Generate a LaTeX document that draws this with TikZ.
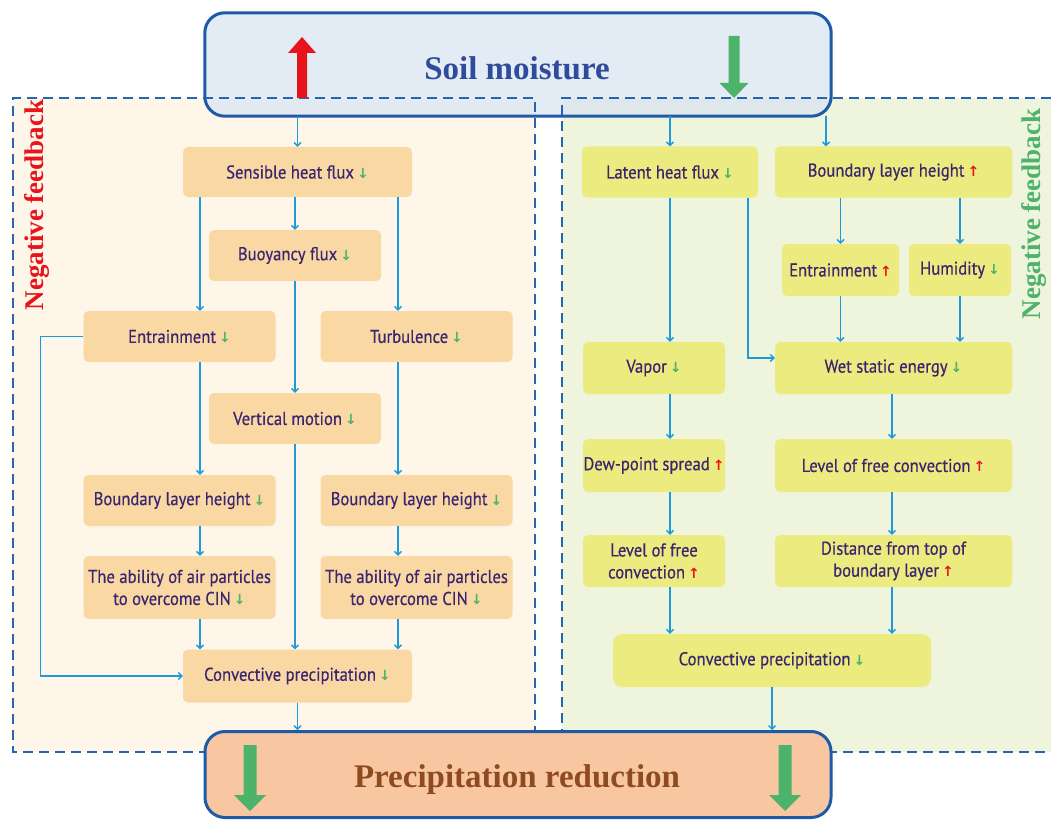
\documentclass[tikz,border=0pt]{standalone}
\usepackage{fontspec}
\setmainfont{PT Sans}
\newfontfamily\nodefont{PT Sans}[FakeBold=0.5,FakeStretch=0.9]
\newfontfamily\titlefont{Liberation Serif}
\newfontfamily\arrfont{DejaVu Sans}
\usetikzlibrary{arrows.meta}
\definecolor{soilfill}{HTML}{DCE6F2}
\definecolor{boxedge}{HTML}{1F5AA6}
\definecolor{dashcol}{HTML}{2566B0}
\definecolor{lpanel}{HTML}{FDF6E9}
\definecolor{rpanel}{HTML}{EFF4DC}
\definecolor{lfill}{HTML}{F9D8A4}
\definecolor{rfill}{HTML}{ECEB80}
\definecolor{precfill}{HTML}{F8C7A2}
\definecolor{acol}{HTML}{1B9BDB}
\definecolor{tcol}{HTML}{3A2570}
\definecolor{ared}{HTML}{E8141B}
\definecolor{agreen}{HTML}{4DB36B}
\definecolor{soiltext}{HTML}{2F4B9B}
\definecolor{prectext}{HTML}{8E4B22}
\newcommand\arrdn{\,{\arrfont\bfseries\fontsize{14}{14}\selectfont\color{agreen}↓}}
\newcommand\arrup{\,{\arrfont\bfseries\fontsize{14}{14}\selectfont\color{ared}↑}}
\begin{document}
\begin{tikzpicture}[x=1pt,y=-1pt,
  nbox/.style={draw=none, rounded corners=5pt, text=tcol, align=center,
    font=\nodefont\fontsize{18.5}{22}\selectfont, inner sep=0pt},
  lbox/.style={nbox, fill=lfill},
  rbox/.style={nbox, fill=rfill},
  arr/.style={draw=acol, line width=1.4pt, -{Straight Barb[length=3.5pt,width=7pt]}},
  panel/.style={draw=dashcol, line width=2pt, dash pattern=on 10pt off 6pt},
  bigbox/.style={draw=boxedge, line width=3pt, rounded corners=20pt},
  fb/.style={font=\titlefont\bfseries\fontsize{27}{27}\selectfont, rotate=90}
]
\useasboundingbox (0,0) rectangle (1051,821);
\fill[white] (0,0) rectangle (1051,821);
% panels
\fill[lpanel] (13,98) rectangle (535,752);
\fill[rpanel] (562,98) rectangle (1051,752);
% soil moisture box
\node[fill=soilfill, fill opacity=0.8, text opacity=1, draw=none, rounded corners=20pt,
  minimum width=626pt, minimum height=103pt, inner sep=0pt] (soil) at (518,64.5) {};
\draw[panel] (535,752) -- (535,98) -- (13,98) -- (13,752) -- (535,752);
\draw[panel] (1051,98) -- (562,98) -- (562,752) -- (1051,752);
\draw[bigbox] (soil.north west) rectangle (soil.south east);
\node[text=soiltext, font=\titlefont\bfseries\fontsize{33}{33}\selectfont] (soiltxt) at (517,68) {Soil moisture};
\fill[ared] (297,98) -- (297,53) -- (288,53) -- (302,37) -- (316,53) -- (307,53) -- (307,98) -- cycle;
\fill[agreen] (728.5,36) -- (728.5,83) -- (719.5,83) -- (734,98) -- (748.5,83) -- (739.5,83) -- (739.5,36) -- cycle;

\node[fb, text=ared] (fbl) at (37,205) {Negative feedback};
\node[fb, text=agreen] (fbr) at (1034,214) {Negative feedback};

% left nodes
\node[lbox, minimum width=229pt, minimum height=50pt] (sens) at (297.5,172) {Sensible heat flux\arrdn};
\node[lbox, minimum width=172pt, minimum height=51pt] (buoy) at (295,255.5) {Buoyancy flux\arrdn};
\node[lbox, minimum width=192pt, minimum height=51pt] (entl) at (179.5,336.5) {Entrainment\arrdn};
\node[lbox, minimum width=192pt, minimum height=51pt] (turb) at (416.5,336.5) {Turbulence\arrdn};
\node[lbox, minimum width=172pt, minimum height=51pt] (vert) at (295,418.5) {Vertical motion\arrdn};
\node[lbox, minimum width=192pt, minimum height=51pt] (blhl) at (179.5,500.5) {Boundary layer height\arrdn};
\node[lbox, minimum width=192pt, minimum height=51pt] (blhr) at (416.5,500.5) {Boundary layer height\arrdn};
\node[lbox, minimum width=192pt, minimum height=63pt] (abl) at (179.5,587.5) {The ability of air particles\\to overcome CIN\arrdn};
\node[lbox, minimum width=192pt, minimum height=63pt] (abr) at (416.5,587.5) {The ability of air particles\\to overcome CIN\arrdn};
\node[lbox, minimum width=229pt, minimum height=53pt] (convl) at (297.5,676) {Convective precipitation\arrdn};

% right nodes
\node[rbox, minimum width=176pt, minimum height=51pt] (lat) at (670,172) {Latent heat flux\arrdn};
\node[rbox, minimum width=237pt, minimum height=51pt] (blhR) at (893.5,172) {Boundary layer height\arrup};
\node[rbox, minimum width=117pt, minimum height=52pt] (entR) at (840.5,270) {Entrainment\arrup};
\node[rbox, minimum width=102pt, minimum height=52pt] (hum) at (960,270) {Humidity\arrdn};
\node[rbox, minimum width=142pt, minimum height=52pt] (vap) at (654,368) {Vapor\arrdn};
\node[rbox, minimum width=237pt, minimum height=52pt] (wse) at (893.5,368) {Wet static energy\arrdn};
\node[rbox, minimum width=142pt, minimum height=53pt] (dew) at (654,465.5) {Dew-point spread\arrup};
\node[rbox, minimum width=237pt, minimum height=53pt] (lfc) at (893.5,465.5) {Level of free convection\arrup};
\node[rbox, minimum width=142pt, minimum height=52pt] (lfc2) at (654,561) {Level of free\\convection\arrup};
\node[rbox, minimum width=237pt, minimum height=52pt] (dist) at (893.5,561) {Distance from top of\\boundary layer\arrup};
\node[rbox, minimum width=318pt, minimum height=53pt, rounded corners=9pt] (convr) at (772,660.5) {Convective precipitation\arrdn};

% bottom box
\node[fill=precfill, draw=boxedge, line width=3pt, rounded corners=20pt,
  minimum width=626pt, minimum height=86pt, inner sep=0pt] (prec) at (518,774.5) {};
\node[text=prectext, font=\titlefont\bfseries\fontsize{33}{33}\selectfont] (prectxt) at (517,780) {Precipitation reduction};
\fill[agreen] (243.5,745) -- (243.5,795) -- (234,795) -- (250,811) -- (266,795) -- (256.5,795) -- (256.5,745) -- cycle;
\fill[agreen] (778.5,745) -- (778.5,795) -- (769,795) -- (785,811) -- (801,795) -- (791.5,795) -- (791.5,745) -- cycle;

% left connectors
\draw[arr] (soil.south -| sens.north) -- (sens.north);
\draw[arr] (sens.south -| buoy.north) -- (buoy.north);
\draw[arr] (sens.south -| 200,0) -- (entl.north -| 200,0);
\draw[arr] (sens.south -| 398,0) -- (turb.north -| 398,0);
\draw[arr] (buoy.south) -- (vert.north);
\draw[arr] (entl.south -| 200,0) -- (blhl.north -| 200,0);
\draw[arr] (turb.south -| 398,0) -- (blhr.north -| 398,0);
\draw[arr] (vert.south) -- (convl.north -| vert.south);
\draw[arr] (blhl.south -| 200,0) -- (abl.north -| 200,0);
\draw[arr] (blhr.south -| 398,0) -- (abr.north -| 398,0);
\draw[arr] (abl.south -| 200,0) -- (convl.north -| 200,0);
\draw[arr] (abr.south -| 398,0) -- (convl.north -| 398,0);
\draw[arr] (entl.west) -- ++(-43,0) |- (convl.west);
\draw[arr] (convl.south) -- (prec.north -| convl.south);

% right connectors
\draw[arr] (soil.south -| lat.north) -- (lat.north);
\draw[arr] (soil.south -| 826,0) -- (blhR.north -| 826,0);
\draw[arr] (lat.south) -- (vap.north -| lat.south);
\draw[arr] (lat.south -| 748,0) |- ([yshift=10pt]wse.west);
\draw[arr] (blhR.south -| entR.north) -- (entR.north);
\draw[arr] (blhR.south -| hum.north) -- (hum.north);
\draw[arr] (entR.south) -- (wse.north -| entR.south);
\draw[arr] (hum.south) -- (wse.north -| hum.south);
\draw[arr] (vap.south -| lat.south) -- (dew.north -| lat.south);
\draw[arr] (wse.south -| 892,0) -- (lfc.north -| 892,0);
\draw[arr] (dew.south -| lat.south) -- (lfc2.north -| lat.south);
\draw[arr] (lfc.south -| 892,0) -- (dist.north -| 892,0);
\draw[arr] (lfc2.south -| lat.south) -- (convr.north -| lat.south);
\draw[arr] (dist.south -| 892,0) -- (convr.north -| 892,0);
\draw[arr] (convr.south) -- (prec.north -| convr.south);
\end{tikzpicture}
\end{document}
